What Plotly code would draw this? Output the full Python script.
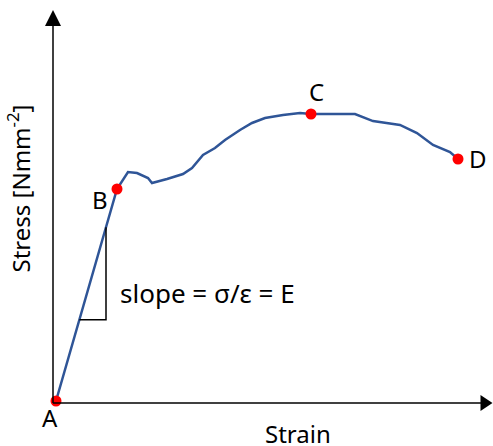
import plotly.graph_objects as go

# ---- data (strain in arbitrary %, stress in N/mm^2) ----
strain = [0.0, 3.05, 3.6, 4.05, 4.6, 4.8, 5.55, 6.35, 6.8, 7.35, 7.95, 8.45, 9.2, 9.8,
          10.45, 11.35, 12.2, 12.75, 13.85, 14.95, 15.85, 17.2, 18.05, 18.85, 19.7, 20.1]
stress = [0.0, 295.5, 319.2, 317.8, 310.8, 303.8, 309.4, 316.4, 324.7, 342.9, 352.6, 363.8,
          377.7, 387.5, 394.4, 398.6, 401.4, 400.0, 400.0, 400.0, 390.2, 384.7, 373.5,
          356.8, 347.0, 337.3]
point_labels = ["A", "B", "C", "D"]
point_strain = [0.0, 3.05, 12.75, 20.1]
point_stress = [0.0, 295.5, 400.0, 337.3]
slope_strain = [1.17, 2.5]   # horizontal extent of slope triangle

W, H = 493, 446
xr = [-2.8, 21.85]
yr = [-62.7, 558.9]
sx = W / (xr[1] - xr[0])      # px per strain unit
sy = H / (yr[1] - yr[0])      # px per stress unit

def px(dx):
    return dx / sx
def py(dy):
    return dy / sy

fig = go.Figure()

line_color = "#2F5597"
fig.add_trace(go.Scatter(x=strain, y=stress, mode="lines",
                         line=dict(color=line_color, width=2.5), hoverinfo="skip"))
fig.add_trace(go.Scatter(x=point_strain, y=point_stress, mode="markers",
                         marker=dict(color="#FF0000", size=11), hoverinfo="skip"))

# axes with arrows
ox, oy = -px(3), -py(2)
x_tip = xr[1] - px(0.5)
y_tip = yr[1] - py(10)
shapes = []
shapes.append(dict(type="line", x0=ox, y0=oy, x1=x_tip - px(10), y1=oy,
                   line=dict(color="black", width=1.5)))
shapes.append(dict(type="line", x0=ox, y0=oy, x1=ox, y1=y_tip - py(14),
                   line=dict(color="black", width=1.5)))
shapes.append(dict(type="path",
                   path=f"M {x_tip} {oy} L {x_tip - px(12)} {oy + py(8)} L {x_tip - px(12)} {oy - py(8)} Z",
                   fillcolor="black", line=dict(color="black", width=0)))
shapes.append(dict(type="path",
                   path=f"M {ox} {y_tip} L {ox - px(8)} {y_tip - py(16)} L {ox + px(8)} {y_tip - py(16)} Z",
                   fillcolor="black", line=dict(color="black", width=0)))

# slope triangle from the elastic line
E = point_stress[1] / point_strain[1]
s0, s1 = slope_strain
yb = E * s0
yt = E * s1
shapes.append(dict(type="path", path=f"M {s0} {yb} L {s1} {yb} L {s1} {yt}",
                   line=dict(color="black", width=1.5)))

font = "Noto Sans"
ann = []
offsets = {"A": (-6, -16), "B": (-17, -11), "C": (5, 23), "D": (20, 1)}
for lab, xv, yv in zip(point_labels, point_strain, point_stress):
    dx, dy = offsets[lab]
    ann.append(dict(x=xv, y=yv, text=lab, showarrow=False, xshift=dx, yshift=dy,
                    font=dict(family=font, size=24, color="black")))
ann.append(dict(x=s1, y=yb, text="slope = σ/ε = E", showarrow=False, xanchor="left",
                xshift=12, yshift=27, font=dict(family=font, size=26, color="black")))
ann.append(dict(x=(ox + x_tip) / 2, y=oy, text="Strain", showarrow=False,
                yshift=-30, xshift=25, font=dict(family=font, size=24, color="black")))
ann.append(dict(x=ox, y=(oy + y_tip) / 2 + py(18), text="Stress [Nmm<sup>-2</sup>]",
                showarrow=False, textangle=-90, xshift=-34,
                font=dict(family=font, size=24, color="black")))

fig.update_layout(
    width=W, height=H, margin=dict(l=0, r=0, t=0, b=0, pad=0),
    paper_bgcolor="white", plot_bgcolor="white", showlegend=False,
    xaxis=dict(range=xr, visible=False, fixedrange=True),
    yaxis=dict(range=yr, visible=False, fixedrange=True),
    shapes=shapes, annotations=ann,
)

fig.write_html("out.html", config={"displayModeBar": False},
               post_script="document.body.style.margin='0px';document.body.style.overflow='hidden';")
